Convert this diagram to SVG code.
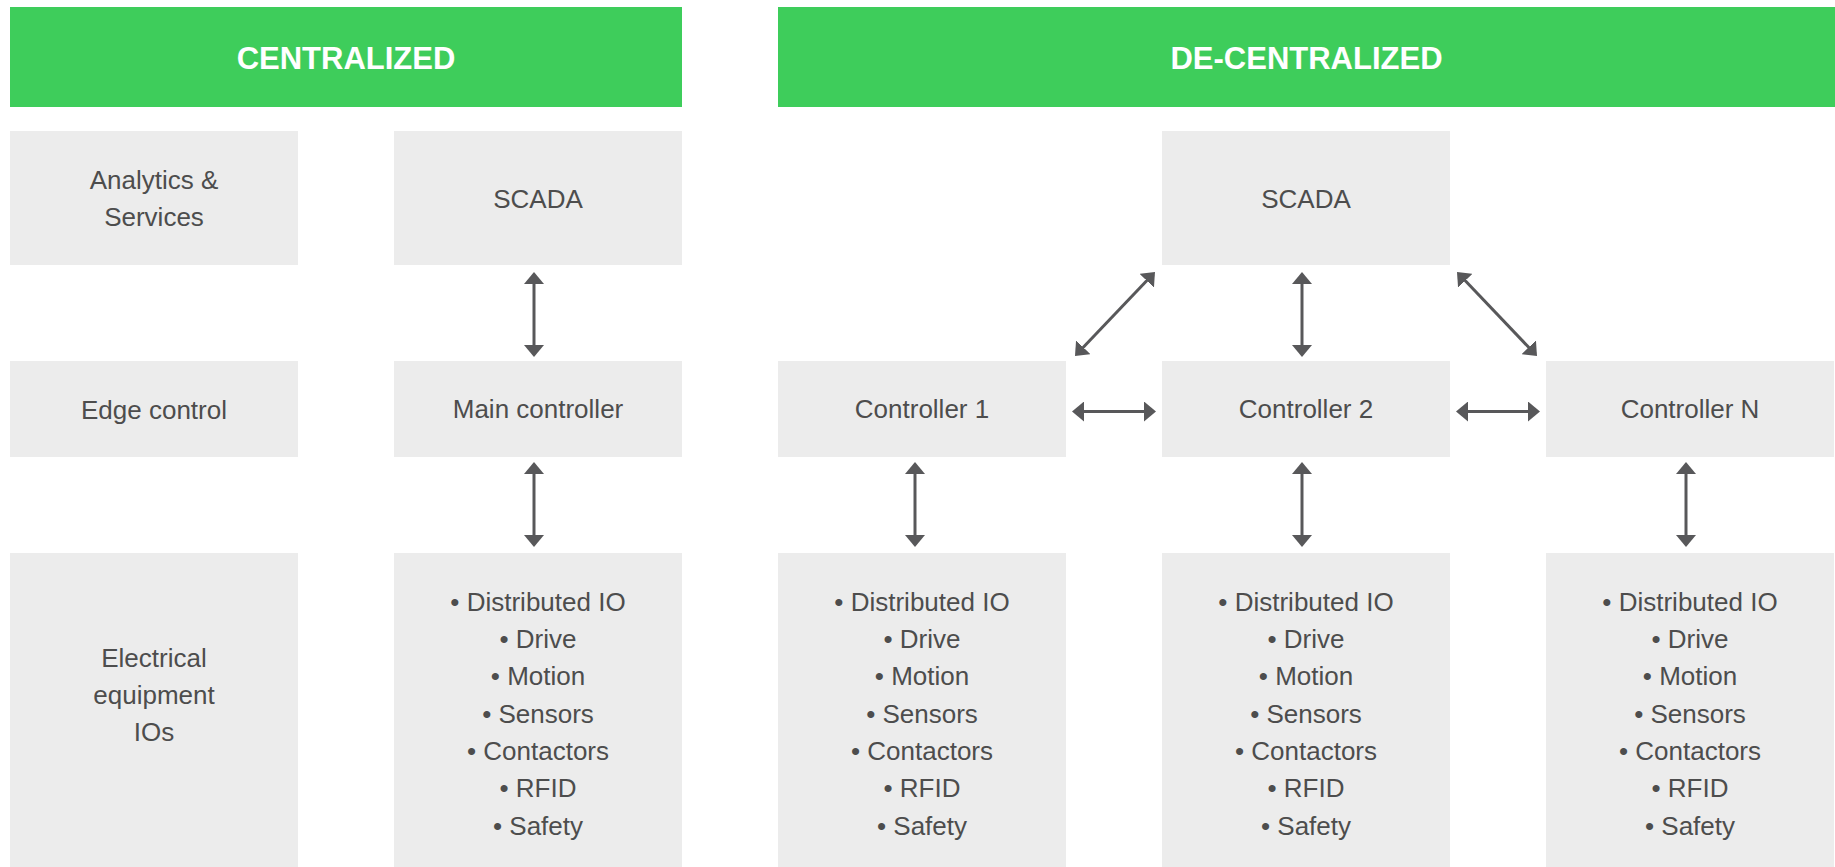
<svg xmlns="http://www.w3.org/2000/svg" width="1835" height="867" viewBox="0 0 1835 867">
<style>
.hdr{fill:#3ecd5b}
.box{fill:#ececec}
.ht{font-family:"Liberation Sans",Arial,sans-serif;font-size:31px;font-weight:bold;fill:#ffffff;text-anchor:middle}
.t{font-family:"Liberation Sans",Arial,sans-serif;font-size:26px;fill:#4d4d4d;text-anchor:middle}
.c{stroke:#58585a;stroke-width:3;fill:none;marker-start:url(#ah);marker-end:url(#ah)}
</style>
<defs>
<marker id="ah" markerUnits="userSpaceOnUse" markerWidth="12" markerHeight="20" viewBox="0 0 12 20" refX="2" refY="10" orient="auto-start-reverse">
<path d="M0,0 L12,10 L0,20 z" fill="#58585a"/>
</marker>
</defs>
<rect width="1835" height="867" fill="#ffffff"/>
<g id="header-centralized"><rect class="hdr" x="10" y="7" width="672" height="100"/><text class="ht" x="346" y="69">CENTRALIZED</text></g>
<g id="header-decentralized"><rect class="hdr" x="778" y="7" width="1057" height="100"/><text class="ht" x="1306.5" y="69">DE-CENTRALIZED</text></g>
<g id="label-analytics"><rect class="box" x="10" y="131" width="288" height="134"/><text class="t" x="154" y="189">Analytics &amp;</text><text class="t" x="154" y="226">Services</text></g>
<g id="label-edge"><rect class="box" x="10" y="361" width="288" height="96"/><text class="t" x="154" y="419">Edge control</text></g>
<g id="label-electrical"><rect class="box" x="10" y="553" width="288" height="314"/><text class="t" x="154" y="667">Electrical</text><text class="t" x="154" y="704">equipment</text><text class="t" x="154" y="741">IOs</text></g>
<g id="scada-central"><rect class="box" x="394" y="131" width="288" height="134"/><text class="t" x="538" y="208">SCADA</text></g>
<g id="main-controller"><rect class="box" x="394" y="361" width="288" height="96"/><text class="t" x="538" y="418">Main controller</text></g>
<g id="io-central"><rect class="box" x="394" y="553" width="288" height="314"/>
<text class="t" x="538" y="610.7">• Distributed IO</text><text class="t" x="538" y="648">• Drive</text><text class="t" x="538" y="685.3">• Motion</text><text class="t" x="538" y="722.6">• Sensors</text><text class="t" x="538" y="760">• Contactors</text><text class="t" x="538" y="797.3">• RFID</text><text class="t" x="538" y="834.6">• Safety</text></g>
<g id="scada-decentral"><rect class="box" x="1162" y="131" width="288" height="134"/><text class="t" x="1306" y="208">SCADA</text></g>
<g id="controller-1"><rect class="box" x="778" y="361" width="288" height="96"/><text class="t" x="922" y="418">Controller 1</text></g>
<g id="controller-2"><rect class="box" x="1162" y="361" width="288" height="96"/><text class="t" x="1306" y="418">Controller 2</text></g>
<g id="controller-n"><rect class="box" x="1546" y="361" width="288" height="96"/><text class="t" x="1690" y="418">Controller N</text></g>
<g id="io-1"><rect class="box" x="778" y="553" width="288" height="314"/>
<text class="t" x="922" y="610.7">• Distributed IO</text><text class="t" x="922" y="648">• Drive</text><text class="t" x="922" y="685.3">• Motion</text><text class="t" x="922" y="722.6">• Sensors</text><text class="t" x="922" y="760">• Contactors</text><text class="t" x="922" y="797.3">• RFID</text><text class="t" x="922" y="834.6">• Safety</text></g>
<g id="io-2"><rect class="box" x="1162" y="553" width="288" height="314"/>
<text class="t" x="1306" y="610.7">• Distributed IO</text><text class="t" x="1306" y="648">• Drive</text><text class="t" x="1306" y="685.3">• Motion</text><text class="t" x="1306" y="722.6">• Sensors</text><text class="t" x="1306" y="760">• Contactors</text><text class="t" x="1306" y="797.3">• RFID</text><text class="t" x="1306" y="834.6">• Safety</text></g>
<g id="io-n"><rect class="box" x="1546" y="553" width="288" height="314"/>
<text class="t" x="1690" y="610.7">• Distributed IO</text><text class="t" x="1690" y="648">• Drive</text><text class="t" x="1690" y="685.3">• Motion</text><text class="t" x="1690" y="722.6">• Sensors</text><text class="t" x="1690" y="760">• Contactors</text><text class="t" x="1690" y="797.3">• RFID</text><text class="t" x="1690" y="834.6">• Safety</text></g>
<g id="connectors">
<line class="c" x1="534" y1="282" x2="534" y2="347"/>
<line class="c" x1="534" y1="472" x2="534" y2="537"/>
<line class="c" x1="915" y1="472" x2="915" y2="537"/>
<line class="c" x1="1302" y1="282" x2="1302" y2="347"/>
<line class="c" x1="1302" y1="472" x2="1302" y2="537"/>
<line class="c" x1="1686" y1="472" x2="1686" y2="537"/>
<line class="c" x1="1082" y1="411.5" x2="1146" y2="411.5"/>
<line class="c" x1="1466" y1="411.5" x2="1530" y2="411.5"/>
<line class="c" x1="1081.9" y1="348.8" x2="1148.1" y2="279.2"/>
<line class="c" x1="1463.9" y1="279.2" x2="1530.1" y2="348.8"/>
</g>
</svg>
